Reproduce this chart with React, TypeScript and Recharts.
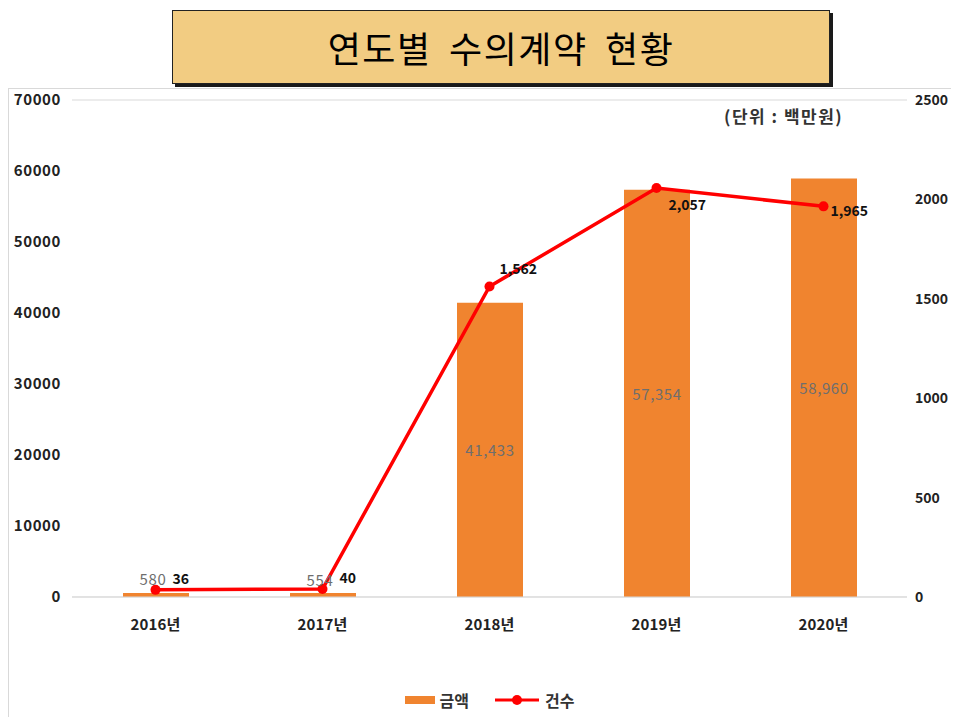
import React from "react";
import {
  Bar,
  CartesianGrid,
  ComposedChart,
  Legend,
  Line,
  XAxis,
  YAxis,
} from "recharts";

const years = ["2016년", "2017년", "2018년", "2019년", "2020년"];
const amounts = [580, 554, 41433, 57354, 58960];
const counts = [36, 40, 1562, 2057, 1965];
const leftTicks = [0, 10000, 20000, 30000, 40000, 50000, 60000, 70000];
const rightTicks = [0, 500, 1000, 1500, 2000, 2500];

const data = years.map((year, i) => ({
  year,
  amount: amounts[i],
  count: counts[i],
}));

const FONT = "'Noto Sans CJK KR', 'Noto Sans', sans-serif";
const ORANGE = "#F0842F";
const RED = "#FF0000";

// where each count label sits relative to its point
const countLabelOffsets = [
  [17, -12],
  [17, -12],
  [10, -18],
  [12, 16],
  [7, 4],
];

const BarValueLabel = (props: any) => {
  const { x, y, width, height, value } = props;
  const cx = x + width / 2 - (height < 20 ? 3 : 0);
  const cy = height < 20 ? y - 14 : y + height / 2;
  return (
    <text
      x={cx}
      y={cy}
      textAnchor="middle"
      dominantBaseline="central"
      fill="#6e6e6e"
      fontSize={15}
      letterSpacing={0.6}
      fontFamily={FONT}
    >
      {Number(value).toLocaleString("en-US")}
    </text>
  );
};

const CountLabel = (props: any) => {
  const { x, y, value } = props;
  let i = typeof props.index === "number" ? props.index : counts.indexOf(value);
  if (i < 0) i = 0;
  const [dx, dy] = countLabelOffsets[i];
  return (
    <text
      x={x + dx}
      y={y + dy}
      textAnchor="start"
      dominantBaseline="central"
      fill="#111"
      fontSize={14}
      fontWeight="bold"
      fontFamily={FONT}
    >
      {Number(value).toLocaleString("en-US")}
    </text>
  );
};

const LegendBox = () => (
  <div
    style={{
      height: 30,
      display: "flex",
      alignItems: "center",
      justifyContent: "center",
      fontFamily: FONT,
      fontSize: 16,
      fontWeight: "bold",
      color: "#333",
      paddingLeft: 20,
    }}
  >
    <span style={{ width: 30, height: 8, background: ORANGE, marginRight: 5 }} />
    <span style={{ marginRight: 26 }}>금액</span>
    <svg width={44} height={12} style={{ marginRight: 6 }}>
      <line x1={0} y1={6} x2={44} y2={6} stroke={RED} strokeWidth={3} />
      <circle cx={22} cy={6} r={5} fill={RED} />
    </svg>
    <span>건수</span>
  </div>
);

const axisTick = {
  fill: "#222",
  fontSize: 15,
  fontWeight: "bold",
  fontFamily: FONT,
  letterSpacing: 0.6,
};

export default function App() {
  return (
    <div style={{ position: "relative", width: 943, height: 709 }}>
      <div
        style={{
          position: "absolute",
          left: 164,
          top: 2,
          width: 656,
          height: 72,
          background: "#F2CC82",
          border: "1.5px solid #222",
          boxShadow: "3px 3px 0 #1a1a1a",
          display: "flex",
          alignItems: "center",
          justifyContent: "center",
          fontFamily: FONT,
          fontSize: 36,
          fontWeight: 400,
          color: "#000",
          wordSpacing: 8,
          letterSpacing: 1.5,
        }}
      >
        연도별 수의계약 현황
      </div>
      <div
        style={{
          position: "absolute",
          left: 0,
          top: 80,
          width: 943,
          height: 629,
          borderLeft: "1px solid #d9d9d9",
          borderTop: "1px solid #d9d9d9",
          boxSizing: "border-box",
        }}
      />
      <div
        style={{
          position: "absolute",
          left: 716,
          top: 95,
          fontFamily: FONT,
          fontSize: 17,
          fontWeight: "bold",
          letterSpacing: 1.5,
          color: "#333",
        }}
      >
        (단위 : 백만원)
      </div>
      <div style={{ position: "absolute", left: 0, top: 81 }}>
        <ComposedChart
          width={943}
          height={628}
          data={data}
          margin={{ top: 11, right: 0, bottom: 2, left: 0 }}
        >
          <CartesianGrid vertical={false} stroke="#d9d9d9" />
          <XAxis
            dataKey="year"
            axisLine={{ stroke: "#d9d9d9" }}
            tickLine={false}
            tickSize={0}
            tickMargin={22}
            height={88}
            tick={{ ...axisTick, letterSpacing: 0.2 }}
          />
          <YAxis
            yAxisId="left"
            domain={[0, 70000]}
            ticks={leftTicks}
            width={64}
            axisLine={false}
            tickLine={false}
            tickSize={0}
            tickMargin={11}
            tick={axisTick}
          />
          <YAxis
            yAxisId="right"
            orientation="right"
            domain={[0, 2500]}
            ticks={rightTicks}
            width={44}
            axisLine={false}
            tickLine={false}
            tickSize={0}
            tickMargin={8}
            tick={{ ...axisTick, fontSize: 14, letterSpacing: 0 }}
          />
          <Legend verticalAlign="bottom" content={<LegendBox />} />
          <Bar
            yAxisId="left"
            dataKey="amount"
            fill={ORANGE}
            barSize={66}
            isAnimationActive={false}
            label={<BarValueLabel />}
          />
          <Line
            yAxisId="right"
            dataKey="count"
            stroke={RED}
            strokeWidth={3.5}
            dot={{ r: 5, fill: RED, stroke: RED, strokeWidth: 0 }}
            isAnimationActive={false}
            label={<CountLabel />}
          />
        </ComposedChart>
      </div>
    </div>
  );
}
